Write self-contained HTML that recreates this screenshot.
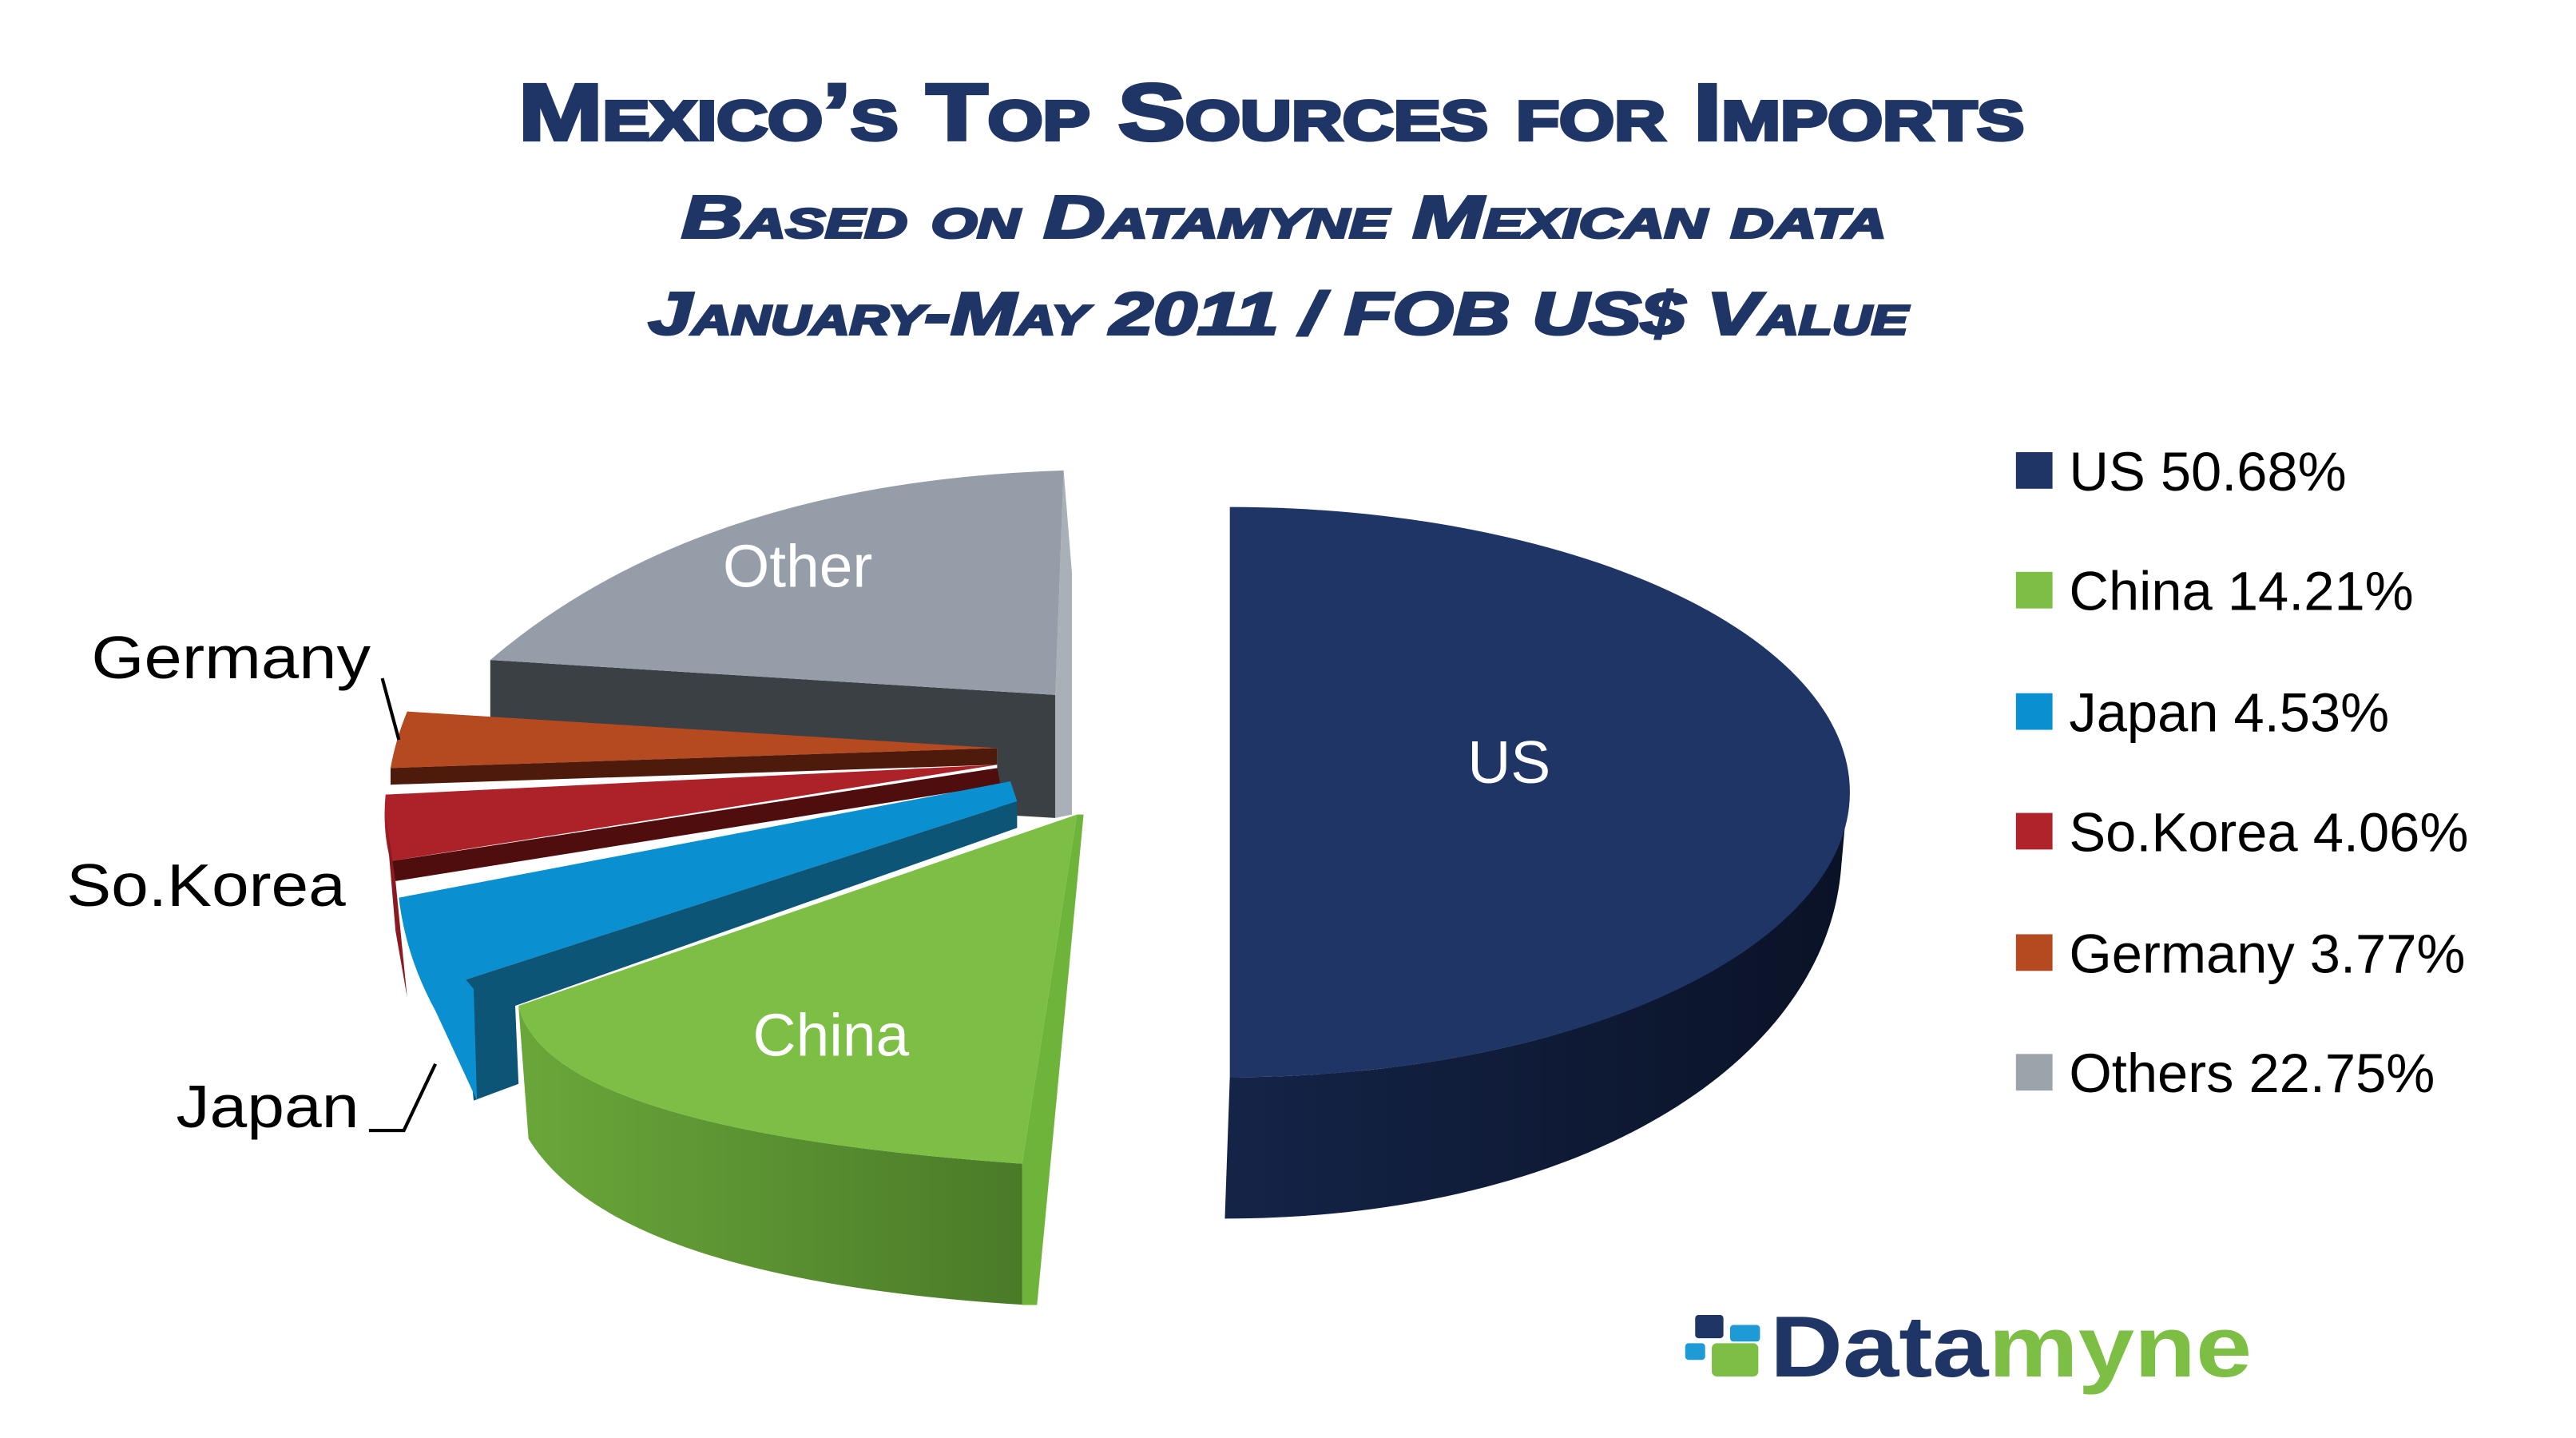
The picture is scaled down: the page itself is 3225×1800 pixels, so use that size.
<!DOCTYPE html>
<html><head><meta charset="utf-8"><style>
html,body{margin:0;padding:0;background:#fff;}
svg{display:block;}
</style></head><body>
<svg width="3225" height="1800" viewBox="0 0 1550 865" preserveAspectRatio="none" xmlns="http://www.w3.org/2000/svg">
<defs>
<linearGradient id="gs" x1="0" x2="1" y1="0" y2="0"><stop offset="0" stop-color="#6aa73a"/><stop offset="1" stop-color="#4a7a28"/></linearGradient>
<linearGradient id="us" x1="0" x2="1" y1="0" y2="0"><stop offset="0" stop-color="#142448"/><stop offset="1" stop-color="#0a1226"/></linearGradient>
</defs>
<g fill="#1f3566" stroke="#1f3566" font-family="Liberation Sans, sans-serif" font-weight="bold" text-anchor="start">
<text x="312" y="84" font-size="48" stroke-width="2" textLength="906" lengthAdjust="spacingAndGlyphs" style="font-variant:small-caps">Mexico’s Top Sources for Imports</text>
<text x="410" y="143" font-size="36" stroke-width="1.5" font-style="italic" textLength="725" lengthAdjust="spacingAndGlyphs" style="font-variant:small-caps">Based on Datamyne Mexican data</text>
<text x="390" y="201" font-size="36" stroke-width="1.5" font-style="italic" textLength="758" lengthAdjust="spacingAndGlyphs" style="font-variant:small-caps">January-May 2011 / FOB  US$ Value</text>
</g>
<!-- Other -->
<path d="M295,397 L635,418 L635,492 L600,490 L600,450 L295,440 Z" fill="#3b4045"/>
<path d="M635,418 L640,283 L645,345 L645,490 L635,492 Z" fill="#a9b0b8"/>
<path d="M635,418 L640,283 Q420,290 295,397 Z" fill="#959ea8"/>
<!-- Germany -->
<path d="M600,450 L245,428 Q238,445 235,462 Z" fill="#b5491f"/>
<path d="M235,462 L600,450 L600,460 L235,472 Z" fill="#4e1a0c"/>
<!-- Korea -->
<path d="M600,460 L232,478 Q230,500 235,518 Z" fill="#ac2228"/>
<path d="M235,518 L600,462 L602,472 L238,530 Z" fill="#4f0d0e"/>
<path d="M232,490 L238,530 L245,600 L238,560 Z" fill="#8a1a1f"/>
<!-- Japan -->
<path d="M608,470 L240,540 Q248,565 278,590 L612,482 Z" fill="#0a8fd0"/>
<path d="M278,590 L612,482 L612,498 L310,605 L312,652 L285,662 Z" fill="#0c5577"/>
<path d="M240,540 Q244,575 262,608 L287,662 L285,595 Z" fill="#0a8fd0"/>
<!-- China -->
<path d="M312,605 Q330,680 615,700 L618,785 Q370,770 318,685 Z" fill="url(#gs)"/>
<path d="M615,700 L648,490 L652,490 L624,785 L615,785 Z" fill="#6fb43a"/>
<path d="M648,490 L312,605 Q330,680 615,700 Z" fill="#7cbf44"/>
<!-- US -->
<path d="M1112,476 A372,171 0 0 1 740,648 L737,733 C950,733 1100,640 1108,520 Z" fill="url(#us)"/>
<path d="M740,305 A372,171 0 0 1 740,648 Z" fill="#1f3566"/>
<g font-family="Liberation Sans, sans-serif" font-size="36" fill="#fff">
<text x="908" y="471" text-anchor="middle">US</text>
<text x="500" y="635" text-anchor="middle">China</text>
<text x="480" y="353" text-anchor="middle">Other</text>
</g>
<g font-family="Liberation Sans, sans-serif" font-size="36" fill="#000">
<text x="223" y="408" text-anchor="end" textLength="168" lengthAdjust="spacingAndGlyphs">Germany</text>
<text x="208" y="545" text-anchor="end" textLength="168" lengthAdjust="spacingAndGlyphs">So.Korea</text>
<text x="216" y="678" text-anchor="end" textLength="110" lengthAdjust="spacingAndGlyphs">Japan</text>
</g>
<path d="M230,408 L240,445" stroke="#000" stroke-width="2" fill="none"/>
<path d="M222,680 L243,680 L262,640" stroke="#000" stroke-width="2" fill="none"/>
<g font-family="Liberation Sans, sans-serif" font-size="33" fill="#000">
<rect x="1213" y="272" width="22" height="22" fill="#1f3566"/><text x="1245" y="295">US 50.68%</text>
<rect x="1213" y="344" width="22" height="22" fill="#7cbf44"/><text x="1245" y="367">China 14.21%</text>
<rect x="1213" y="417" width="22" height="22" fill="#0a8fd0"/><text x="1245" y="440">Japan 4.53%</text>
<rect x="1213" y="489" width="22" height="22" fill="#b0232a"/><text x="1245" y="512">So.Korea 4.06%</text>
<rect x="1213" y="562" width="22" height="22" fill="#b5491f"/><text x="1245" y="585">Germany 3.77%</text>
<rect x="1213" y="634" width="22" height="22" fill="#9ba3ab"/><text x="1245" y="657">Others 22.75%</text>
</g>
<rect x="1020" y="791" width="17" height="14" rx="2" fill="#1f3566"/>
<rect x="1041" y="797" width="18" height="10" rx="2" fill="#1e9ad6"/>
<rect x="1014" y="808" width="12" height="10" rx="2" fill="#1e9ad6"/>
<rect x="1030" y="808" width="28" height="20" rx="3" fill="#7cbf44"/>
<text x="1065" y="828" font-family="Liberation Sans, sans-serif" font-weight="bold" font-size="52" textLength="290" lengthAdjust="spacingAndGlyphs"><tspan fill="#1f3566">Data</tspan><tspan fill="#7cbf44">myne</tspan></text>
</svg>
</body></html>
